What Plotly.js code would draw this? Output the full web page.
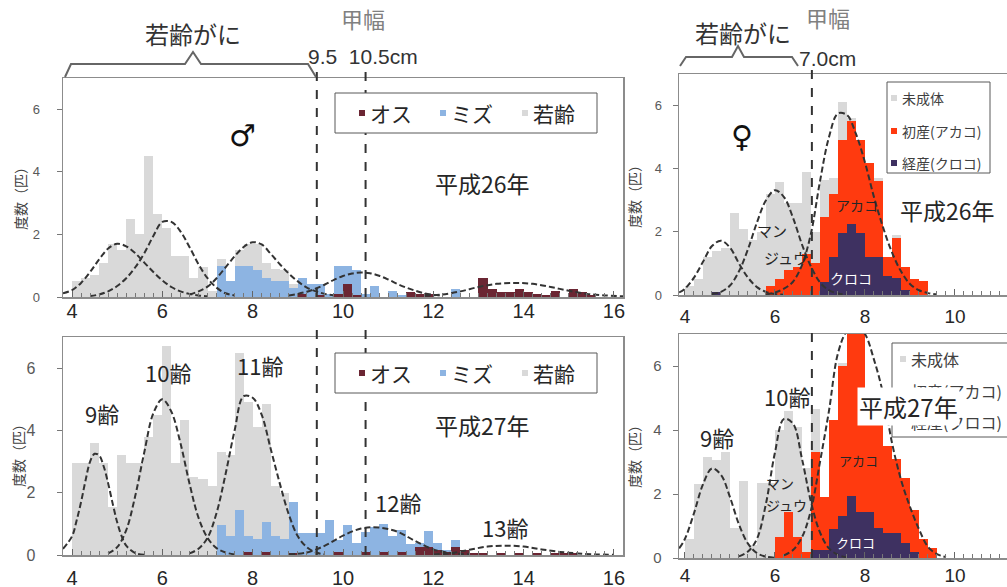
<!DOCTYPE html>
<html><head><meta charset="utf-8">
<script src="https://cdn.plot.ly/plotly-3.0.1.min.js"></script>
<style>html,body{margin:0;padding:0;background:#fff}#chart{width:1007px;height:587px}</style>
</head><body><div id="chart"></div>
<script>
// ---------- DATA ----------
const maleBins = [4.1,4.3,4.5,4.7,4.9,5.1,5.3,5.5,5.7,5.9,
  6.1,6.3,6.5,6.7,6.9,7.1,7.3,7.5,7.7,7.9,
  8.1,8.3,8.5,8.7,8.9,9.1,9.3,9.5,9.7,9.9,
  10.1,10.3,10.5,10.7,10.9,11.1,11.3,11.5,11.7,11.9,
  12.1,12.3,12.5,12.7,12.9,13.1,13.3,13.5,13.7,13.9,
  14.1,14.3,14.5,14.7,14.9,15.1,15.3,15.5,15.7,15.9];
// H26 male panel
const m26Male = [0,0,0,0,0,0,0,0,0,0, 0,0,0,0,0,0,0,0,0,0,
  0,0,0,0,0,0.1,0,0.05,0,0.1, 0.4,0.05,0,0,0,0,0,0.15,0.1,0.1,
  0,0,0,0,0,0.6,0.25,0.15,0.15,0.25, 0.15,0.1,0.05,0.2,0,0.25,0.15,0.05,0,0];
const m26Fem = [0,0,0,0,0,0,0,0,0,0, 0,0,0,0,0,0,1.0,0.5,1.0,1.0,
  0.85,0.6,0.5,0.5,0.3,0.5,0.4,0.35,0.1,0.9, 0.6,0.8,0.1,0.35,0,0.2,0.05,0,0,0,
  0,0,0.25,0,0,0,0,0,0,0, 0,0,0,0,0,0,0,0,0,0];
const m26Juv = [0.5,0.6,0.7,1.1,1.7,1.5,2.5,2.0,4.5,2.65, 2.2,1.3,1.3,0.6,0.95,0.2,0.2,0,0.5,0.7,
  0.85,0.5,0.4,0.35,0.1,0,0,0,0,0, 0,0,0,0,0,0,0,0,0,0,
  0,0,0,0,0,0,0,0,0,0, 0,0,0,0,0,0,0,0,0,0];
// H27 male panel
const m27Male = [0,0,0,0,0,0,0,0,0,0, 0,0,0,0,0,0,0,0,0,0.1,
  0,0.1,0,0,0.05,0,0,0,0,0.1, 0,0,0.1,0,0.1,0,0.1,0,0.27,0.27,
  0.15,0.1,0.27,0.16,0.05,0.05,0,0.05,0,0.05, 0,0.05,0,0.08,0.08,0.05,0,0,0,0];
const m27Fem = [0,0,0,0,0,0,0,0,0,0, 0,0,0,0,0,0,0.95,0.6,1.45,0.5,
  0.5,0.95,0.6,0.5,1.65,0.7,0.7,0.7,1.13,0.38, 0.97,0.38,0.65,0.9,0.9,0.6,0.7,0.35,0.1,0.5,
  0.25,0.05,0.2,0,0,0,0,0,0,0, 0,0,0,0,0,0,0,0,0,0];
const m27Juv = [2.95,2.95,3.6,2.95,1.55,3.2,2.95,2.95,3.8,4.5, 6.7,2.95,4.35,2.5,2.45,2.2,2.35,2.6,5.05,4.3,
  3.6,3.8,1.6,1.5,0,0,0,0,0,0, 0,0,0,0,0,0,0,0,0,0,
  0,0,0,0,0,0,0,0,0,0, 0,0,0,0,0,0,0,0,0,0];

const femBins = [4.1,4.3,4.5,4.7,4.9,5.1,5.3,5.5,5.7,5.9,
  6.1,6.3,6.5,6.7,6.9,7.1,7.3,7.5,7.7,7.9,
  8.1,8.3,8.5,8.7,8.9,9.1,9.3,9.5,9.7,9.9];
// H26 female panel
const f26Multi = [0,0,0,0.1,0,0,0,0,0,0, 0,0,0,0,0,0.4,1.2,1.95,2.25,1.95, 1.2,1.2,0.6,0.55,0.15,0,0,0,0,0];
const f26Prim  = [0,0,0,0,0,0,0,0,0,0.3, 0.5,0.78,0.9,1.3,1.0,2.07,2.0,2.95,3.25,2.95, 2.97,2.4,0.6,1.25,0.75,0.5,0.45,0,0,0];
const f26Imm   = [0.3,0.5,1.2,1.3,1.5,2.6,2.1,1.75,2.0,2.9, 3.07,2.12,2.0,2.6,1.0,1.17,0.5,1.2,0.1,0, 0,0.1,0,0.1,0,0,0,0,0,0];
// H27 female panel
const f27Multi = [0,0,0,0,0,0,0,0,0,0, 0,0,0,0,0.25,0.25,0.9,1.3,1.93,1.45, 1.45,0.93,0.77,0.77,0.46,0.2,0,0,0,0];
const f27Prim  = [0,0,0,0,0,0,0,0,0,0, 0.67,1.45,0.67,0.2,3.05,1.65,3.4,4.7,5.07,5.55, 3.55,3.27,2.73,2.33,2.04,1.3,0.6,0.3,0,0];
const f27Imm   = [0.6,2.3,3.15,3.05,3.3,0.95,2.4,0.4,2.35,2.35, 3.33,3.15,3.43,2.6,1.35,0,0,0.1,0.1,0, 0,0,0,0,0,0,0,0,0,0];

// fitted curves
const m26c1x=[3.8,4.0,4.2,4.4,4.6,4.8,5.0,5.2,5.4,5.6,5.8,6.0,6.2,6.4,6.6,6.8,7.0];
const m26c1y=[0.12,0.22,0.45,0.8,1.2,1.55,1.7,1.62,1.4,1.1,0.8,0.53,0.32,0.18,0.1,0.05,0.02];
const m26c2x=[4.4,4.6,4.8,5.0,5.2,5.4,5.6,5.8,6.0,6.2,6.4,6.6,6.8,7.0,7.2,7.4,7.6];
const m26c2y=[0.03,0.08,0.18,0.35,0.6,0.95,1.4,1.95,2.4,2.4,2.1,1.6,1.05,0.6,0.3,0.12,0.05];
const m26c3x=[6.6,6.8,7.0,7.2,7.4,7.6,7.8,8.0,8.2,8.4,8.6,8.8,9.0,9.2,9.4,9.6,9.8];
const m26c3y=[0.08,0.18,0.33,0.6,0.95,1.3,1.6,1.75,1.68,1.38,1.05,0.75,0.5,0.3,0.18,0.1,0.05];
const m26c4x=[8.8,9.0,9.2,9.4,9.6,9.8,10.0,10.2,10.4,10.6,10.8,11.0,11.2,11.4,11.6,11.8,12.0,12.2];
const m26c4y=[0.05,0.1,0.17,0.27,0.4,0.55,0.67,0.75,0.78,0.76,0.68,0.56,0.42,0.3,0.2,0.12,0.07,0.04];
const m26c5x=[11.8,12.2,12.6,13.0,13.4,13.8,14.2,14.6,15.0,15.4,15.8,16.2];
const m26c5y=[0.04,0.08,0.18,0.32,0.42,0.45,0.42,0.32,0.2,0.1,0.05,0.02];

const m27c9x=[3.8,4.0,4.1,4.2,4.3,4.4,4.5,4.6,4.7,4.8,4.9,5.0,5.1,5.2,5.4,5.6];
const m27c9y=[0.2,0.6,1.1,1.7,2.4,3.0,3.25,3.2,2.85,2.3,1.65,1.05,0.6,0.3,0.06,0.01];
const m27c10x=[4.8,5.0,5.2,5.4,5.6,5.8,6.0,6.2,6.4,6.6,6.8,7.0,7.2,7.4,7.6];
const m27c10y=[0.05,0.25,0.8,1.9,3.3,4.55,5.0,4.6,3.6,2.3,1.2,0.55,0.22,0.08,0.02];
const m27c11x=[6.6,6.8,7.0,7.2,7.4,7.6,7.8,8.0,8.2,8.4,8.6,8.8,9.0,9.2,9.4,9.6];
const m27c11y=[0.05,0.2,0.55,1.35,2.6,4.0,5.1,5.05,4.5,3.4,2.3,1.3,0.6,0.25,0.08,0.02];
const m27c12x=[8.8,9.2,9.6,10.0,10.4,10.8,11.2,11.6,12.0,12.4,12.8];
const m27c12y=[0.02,0.08,0.3,0.62,0.85,0.88,0.75,0.45,0.18,0.06,0.02];
const m27c13x=[12.0,12.4,12.8,13.2,13.6,14.0,14.4,14.8,15.2,15.6,16.0];
const m27c13y=[0.02,0.06,0.17,0.27,0.3,0.27,0.18,0.1,0.05,0.02,0.01];

const f26c1x=[3.87,4.0,4.2,4.4,4.6,4.8,5.0,5.2,5.4,5.6,5.8,6.0,6.2];
const f26c1y=[0.08,0.2,0.55,1.05,1.55,1.72,1.5,1.0,0.55,0.25,0.1,0.03,0.01];
const f26c2x=[4.6,4.8,5.0,5.2,5.4,5.6,5.8,6.0,6.2,6.4,6.6,6.8,7.0,7.2,7.4,7.6];
const f26c2y=[0.03,0.1,0.3,0.75,1.45,2.3,3.0,3.32,3.1,2.45,1.6,0.9,0.4,0.15,0.05,0.01];
const f26c3x=[5.8,6.0,6.2,6.4,6.6,6.8,7.0,7.2,7.4,7.6,7.8,8.0,8.2,8.4,8.6,8.8,9.0,9.2,9.4,9.6];
const f26c3y=[0.02,0.08,0.2,0.42,0.95,1.95,3.6,5.0,5.75,5.7,5.1,4.2,3.1,2.15,1.35,0.75,0.35,0.15,0.06,0.02];

const f27c9x=[3.87,4.0,4.2,4.4,4.6,4.8,5.0,5.2,5.4,5.6,5.8,6.0];
const f27c9y=[0.3,0.6,1.4,2.3,2.8,2.6,1.9,1.05,0.45,0.15,0.04,0.01];
const f27c10x=[5.2,5.4,5.6,5.8,6.0,6.2,6.4,6.6,6.8,7.0,7.2,7.4,7.6];
const f27c10y=[0.05,0.2,0.6,1.7,3.3,4.35,4.2,3.1,1.75,0.8,0.3,0.1,0.02];
const f27cMx=[6.2,6.4,6.6,6.8,7.0,7.2,7.4,7.6,7.8,8.0,8.2,8.4,8.6,8.8,9.0,9.2,9.4,9.6,9.8];
const f27cMy=[0.08,0.25,0.65,1.5,3.0,4.6,6.4,7.1,7.28,7.0,6.2,5.15,3.6,2.45,1.6,0.9,0.35,0.12,0.03];

const maleCutLines = [9.42, 10.5];
const femCutLine = 6.82;

// ---------- STYLE / LAYOUT ----------
const W=1007, H=587;
const px = x => x/W, py = y => 1 - y/H;
const JP = "'Noto Sans CJK JP', sans-serif";
const LAT = "'Liberation Sans', Arial, sans-serif";
const C = {male:'#6B2633', fem:'#8DB4E2', juv:'#D9D9D9', imm:'#D9D9D9', prim:'#FF3A0F', multi:'#3E3161'};

function bar(x, y, color, n){
  return {type:'bar', x:x, y:y, width:0.2, xaxis:'x'+n, yaxis:'y'+n,
    marker:{color:color, line:{width:0}}, showlegend:false, hoverinfo:'skip'};
}
function curve(x, y, n){
  return {type:'scatter', mode:'lines', x:x, y:y, xaxis:'x'+n, yaxis:'y'+n,
    line:{color:'#333333', width:2, dash:'6px,3px', shape:'spline', smoothing:1},
    showlegend:false, hoverinfo:'skip'};
}
const traces = [
  bar(maleBins, m26Male, C.male, ''), bar(maleBins, m26Fem, C.fem, ''), bar(maleBins, m26Juv, C.juv, ''),
  bar(maleBins, m27Male, C.male, 2), bar(maleBins, m27Fem, C.fem, 2), bar(maleBins, m27Juv, C.juv, 2),
  bar(femBins, f26Multi, C.multi, 3), bar(femBins, f26Prim, C.prim, 3), bar(femBins, f26Imm, C.imm, 3),
  bar(femBins, f27Multi, C.multi, 4), bar(femBins, f27Prim, C.prim, 4), bar(femBins, f27Imm, C.imm, 4),
  curve(m26c1x,m26c1y,''), curve(m26c2x,m26c2y,''), curve(m26c3x,m26c3y,''), curve(m26c4x,m26c4y,''), curve(m26c5x,m26c5y,''),
  curve(m27c9x,m27c9y,2), curve(m27c10x,m27c10y,2), curve(m27c11x,m27c11y,2), curve(m27c12x,m27c12y,2), curve(m27c13x,m27c13y,2),
  curve(f26c1x,f26c1y,3), curve(f26c2x,f26c2y,3), curve(f26c3x,f26c3y,3),
  curve(f27c9x,f27c9y,4), curve(f27c10x,f27c10y,4), curve(f27cMx,f27cMy,4)
];

function xax(dom, rng, anchor, standoff, size){
  return {domain:dom, range:rng, anchor:anchor, showline:true, linecolor:'#8C8C8C', linewidth:1.5, mirror:true,
    ticks:'inside', ticklen:6, tickcolor:'#666', tickwidth:1, tick0:4, dtick:2,
    minor:{dtick:0.2, tick0:4, ticks:'inside', ticklen:4, tickcolor:'#777', tickwidth:1},
    showgrid:false, zeroline:false, fixedrange:true,
    tickfont:{family:LAT, size:size, color:'#262626'}, ticklabelstandoff:standoff};
}
function yax(dom, anchor, mirror, standoff, size){
  return {domain:dom, range:[0,7], anchor:anchor, showline:true, linecolor:'#8C8C8C', linewidth:1.5, mirror:mirror,
    ticks:'outside', ticklen:5, tickcolor:'#777', dtick:2, showgrid:false, zeroline:false, fixedrange:true,
    tickfont:{family:LAT, size:size, color:'#595959'}, ticklabelstandoff:standoff};
}
const xL=[63/W, 623/W], xR=[679/W, 1];
const rL=[3.8, 16.2], rR=[3.867, 11.156];

function ann(text, x, y, size, color, extra){
  return Object.assign({xref:'paper', yref:'paper', x:px(x), y:py(y), text:text, showarrow:false,
    xanchor:'center', yanchor:'middle', font:{family:JP, size:size, color:color||'#262626'}}, extra||{});
}
function ytitle(x, y){ return ann('度数（匹）', x, y, 14, '#404040', {textangle:-90}); }

function pathPx(pts){ return pts.map((p,i)=>(i?'L':'M')+px(p[0])+','+py(p[1])).join(' '); }
const bracketL = [[65,77],[71,64],[185,64],[193,52],[201,64],[308,64],[316,77]];
const bracketR = [[680,66],[686,57],[732,57],[738,46],[744,57],[792,57],[798,66]];

const shapes = [];
maleCutLines.forEach(v => {
  shapes.push({type:'line', xref:'x', yref:'paper', x0:v, x1:v, y0:py(297), y1:py(66), line:{color:'#333',width:2,dash:'dash'}, layer:'above'});
  shapes.push({type:'line', xref:'x2', yref:'paper', x0:v, x1:v, y0:py(555), y1:py(330), line:{color:'#333',width:2,dash:'dash'}, layer:'above'});
});
shapes.push({type:'line', xref:'x3', yref:'paper', x0:femCutLine, x1:femCutLine, y0:py(295), y1:py(66), line:{color:'#333',width:2,dash:'dash'}, layer:'above'});
shapes.push({type:'line', xref:'x4', yref:'paper', x0:femCutLine, x1:femCutLine, y0:py(558), y1:py(328), line:{color:'#333',width:2,dash:'dash'}, layer:'above'});
shapes.push({type:'path', xref:'paper', yref:'paper', path:pathPx(bracketL), line:{color:'#666',width:2}});
shapes.push({type:'path', xref:'paper', yref:'paper', path:pathPx(bracketR), line:{color:'#666',width:2}});

function rectPx(x0,y0,x1,y1,fill,lc){
  return {type:'rect', xref:'paper', yref:'paper', x0:px(x0), x1:px(x1), y0:py(y1), y1:py(y0),
    fillcolor:fill, line:{color:lc||fill, width:lc?1:0}, layer:'above'};
}
const annots = [];
// male legends
[[113],[373]].forEach(([cy]) => {
  shapes.push(rectPx(335, cy-20, 597, cy+20, '#FFFFFF', '#595959'));
  const items = [['オス',C.male,362],['ミズ',C.fem,443],['若齢',C.juv,525]];
  items.forEach(([t,c,sx]) => {
    shapes.push(rectPx(sx-3, cy-3, sx+3, cy+3, c));
    annots.push(ann(t, sx+6, cy, 21, '#262626', {xanchor:'left'}));
  });
});
// female legends
function femLegend(x0, y0, x1, y1, ys, sx, size){
  shapes.push(rectPx(x0, y0, x1, y1, '#FFFFFF', '#595959'));
  const items = [['未成体',C.imm],['初産(アカコ)',C.prim],['経産(クロコ)',C.multi]];
  items.forEach(([t,c],i) => {
    shapes.push(rectPx(sx-3, ys[i]-3, sx+3, ys[i]+3, c));
    annots.push(ann(t, sx+6, ys[i], size, '#404040', {xanchor:'left'}));
  });
}
femLegend(887, 82, 990, 173, [98,131,163], 894, 14);
femLegend(892, 343, 1012, 437, [359,391,422], 903, 16);

annots.push(
  ann('若齢がに', 193, 33, 24, '#333'),
  ann('甲幅', 363, 18, 22, '#808080'),
  ann('9.5  10.5cm', 306, 57, 21, '#333', {xanchor:'left', font:{family:LAT, size:21, color:'#333'}}),
  ann('若齢がに', 743, 32, 24, '#333'),
  ann('甲幅', 828, 17, 22, '#808080'),
  ann('7.0cm', 797, 59, 21, '#333', {xanchor:'left', font:{family:LAT, size:21, color:'#333'}}),
  ann('♂', 242, 135, 30, '#111', {font:{family:'DejaVu Sans', size:30, color:'#111', weight:'bold'}}),
  ann('平成26年', 482, 183, 23),
  ann('9齢', 102, 413, 22), ann('10齢', 168, 372, 22), ann('11齢', 260, 365, 22),
  ann('12齢', 398, 502, 22), ann('13齢', 505, 527, 22),
  ann('平成27年', 482, 425, 23),
  ann('♀', 742, 137, 30, '#111', {font:{family:'DejaVu Sans', size:30, color:'#111', weight:'bold'}}),
  ann('平成26年', 947, 210, 23),
  ann('アカコ', 857, 205, 14, '#262626'),
  ann('クロコ', 851, 278, 14, '#FFFFFF'),
  ann('マン', 772, 231, 15, '#262626'), ann('ジュウ', 786, 257, 15, '#262626'),
  ann('9齢', 717, 437, 22), ann('10齢', 787, 396, 22),
  ann('アカコ', 858, 460, 13, '#262626'),
  ann('クロコ', 855, 542, 13, '#FFFFFF'),
  ann('マン', 780, 483, 14, '#262626'), ann('ジュウ', 786, 505, 14, '#262626'),
  ann('平成27年', 908, 406, 24, '#262626', {bgcolor:'#FFFFFF', borderpad:1}),
  ytitle(20, 195), ytitle(18, 452), ytitle(634, 193), ytitle(634, 453)
);

const layout = {
  width:W, height:H, margin:{l:0,r:0,t:0,b:0}, paper_bgcolor:'#fff', plot_bgcolor:'#fff',
  barmode:'stack', bargap:0, showlegend:false,
  xaxis: xax(xL, rL, 'y', -5, 20),
  yaxis: yax([py(297), py(78)], 'x', true, 14, 13),
  xaxis2: xax(xL, rL, 'y2', 4, 20),
  yaxis2: yax([py(555), py(337)], 'x2', true, 18, 16),
  xaxis3: xax(xR, rR, 'y3', 4, 19),
  yaxis3: yax([py(295), py(74)], 'x3', false, 8, 13),
  xaxis4: xax(xR, rR, 'y4', 0, 19),
  yaxis4: yax([py(558), py(334)], 'x4', false, 8, 15),
  shapes: shapes, annotations: annots
};
Plotly.newPlot('chart', traces, layout, {displayModeBar:false, staticPlot:true});
</script></body></html>
